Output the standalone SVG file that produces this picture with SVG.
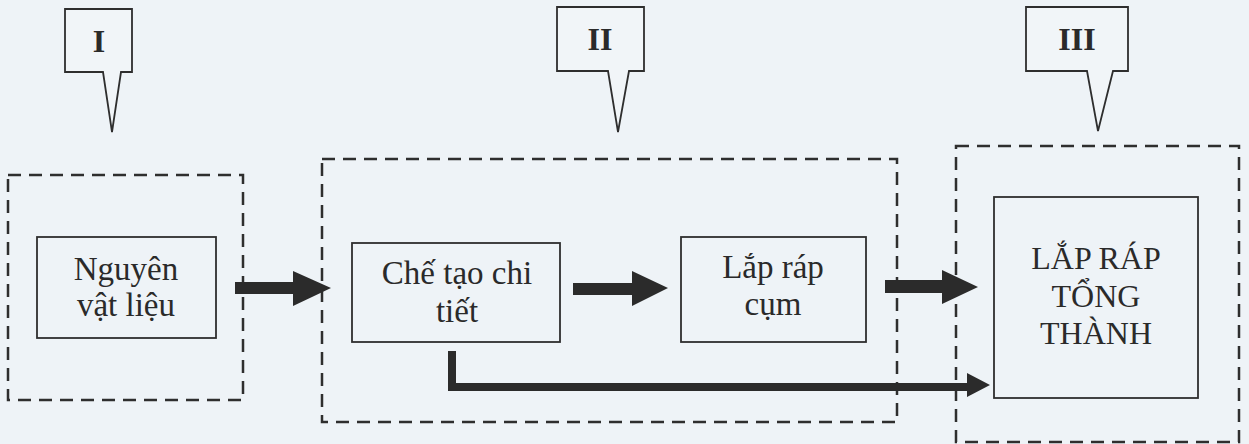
<svg xmlns="http://www.w3.org/2000/svg" width="1249" height="444" viewBox="0 0 1249 444">
<style>
.bg{fill:#eef3f7}
.dash{fill:none;stroke:#2e2e2e;stroke-width:2.5;stroke-dasharray:13 8}
.box{fill:none;stroke:#2e2e2e;stroke-width:1.8}
.call{fill:#f1f5f8;stroke:#2e2e2e;stroke-width:1.8;stroke-linejoin:miter}
.lbl{font-family:"Liberation Serif","Times New Roman",serif;font-size:33px;fill:#2a2a2a;text-anchor:middle}
.cap{font-size:32px}
.num{font-family:"Liberation Serif","Times New Roman",serif;font-size:32px;font-weight:bold;fill:#2a2a2a;text-anchor:middle}
.arr{fill:#2b2b2b;stroke:none}
</style>
<rect class="bg" x="0" y="0" width="1249" height="444"/>

<g id="callout-I">
<path class="call" d="M65,9 H132 V72 H121 L112,132 L103,72 H65 Z"/>
<text class="num" x="99" y="52">I</text>
</g>
<g id="callout-II">
<path class="call" d="M557,7 H644 V71 H629 L618,132 L608,71 H557 Z"/>
<text class="num" x="600" y="50">II</text>
</g>
<g id="callout-III">
<path class="call" d="M1026,7 H1128 V71 H1113 L1098,131 L1087,71 H1026 Z"/>
<text class="num" x="1077" y="50">III</text>
</g>

<g id="stage-I">
<rect class="dash" x="8" y="175" width="235" height="225"/>
</g>
<g id="stage-II">
<rect class="dash" x="322" y="159" width="575" height="263"/>
</g>
<g id="stage-III">
<rect class="dash" x="956" y="146" width="283" height="296"/>
</g>

<g id="node-nguyen-vat-lieu">
<rect class="box" x="37" y="237" width="179" height="101"/>
<text class="lbl" x="126" y="280">Nguyên</text>
<text class="lbl" x="126" y="316">vật liệu</text>
</g>
<g id="node-che-tao-chi-tiet">
<rect class="box" x="352" y="243" width="208" height="99"/>
<text class="lbl" x="457" y="284">Chế tạo chi</text>
<text class="lbl" x="457" y="322">tiết</text>
</g>
<g id="node-lap-rap-cum">
<rect class="box" x="681" y="237" width="185" height="105"/>
<text class="lbl" x="773" y="278">Lắp ráp</text>
<text class="lbl" x="773" y="315">cụm</text>
</g>
<g id="node-lap-rap-tong-thanh">
<rect class="box" x="994" y="197" width="204" height="201"/>
<text class="lbl cap" x="1096" y="269">LẮP RÁP</text>
<text class="lbl cap" x="1096" y="307">TỔNG</text>
<text class="lbl cap" x="1096" y="344">THÀNH</text>
</g>

<g id="connectors">
<path class="arr" d="M235,282 H293 V271 L331,288 L293,306 V294 H235 Z"/>
<path class="arr" d="M573,283 H632 V271 L668,288 L632,306 V295 H573 Z"/>
<path class="arr" d="M885,280 H942 V270 L978,287 L942,304 V293 H885 Z"/>
<path class="arr" d="M448,351 H456 V383 H967 V373 L990,385 L967,397 V391 H448 Z"/>
</g>
</svg>
